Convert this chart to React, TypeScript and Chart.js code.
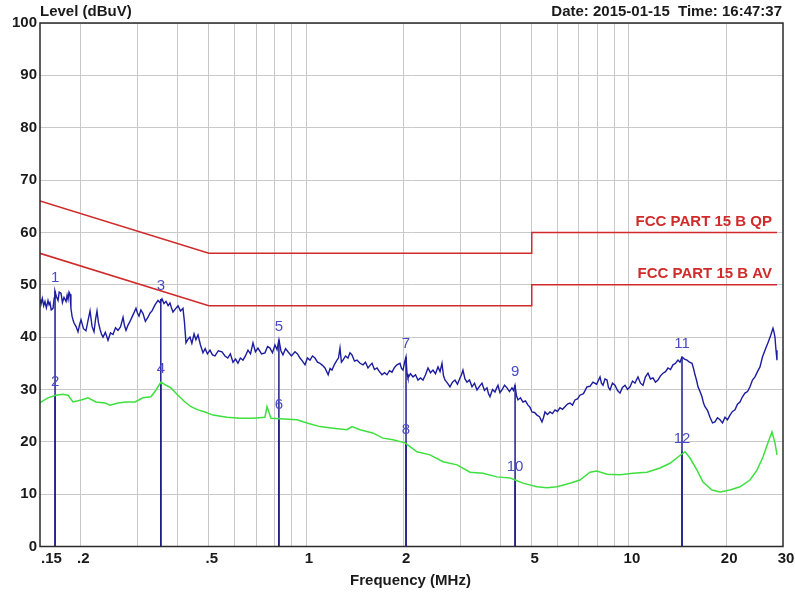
import React, { useEffect, useRef } from 'react';
import { Chart, registerables } from 'chart.js';

Chart.register(...registerables);

// ---------- data ----------
const gridFreqs = [0.2, 0.3, 0.4, 0.5, 0.6, 0.7, 0.8, 0.9, 1, 2, 3, 4, 5, 6, 7, 8, 9, 10, 20];
const xTickValues = [0.15, 0.2, 0.5, 1, 2, 5, 10, 20, 30];
const xTickLabels = ['.15', '.2', '.5', '1', '2', '5', '10', '20', '30'];
const yTickValues = [0, 10, 20, 30, 40, 50, 60, 70, 80, 90, 100];

// QP / peak trace (MHz)
const qpFreq = [
  0.150, 0.1505, 0.1511, 0.1525, 0.1540, 0.1554, 0.1570, 0.1588, 0.1600, 0.1611,
  0.1625, 0.1646, 0.1660, 0.1669, 0.1685, 0.1706, 0.1720, 0.1742, 0.1760, 0.1780,
  0.1806, 0.1820, 0.1832, 0.1845, 0.1858, 0.1870, 0.1885, 0.1900, 0.1912, 0.1940,
  0.1967, 0.1990, 0.2010, 0.2045, 0.2082, 0.2110, 0.2143, 0.2175, 0.2205, 0.2230,
  0.2252, 0.2275, 0.2301, 0.2325, 0.2351, 0.2390, 0.2436, 0.2480, 0.2525, 0.2570,
  0.2616, 0.2665, 0.2712, 0.2740, 0.2770, 0.2810, 0.2850, 0.2910, 0.2974, 0.3005,
  0.3039, 0.3080, 0.3127, 0.3180, 0.3240, 0.3290, 0.3334, 0.3410, 0.3480, 0.3530,
  0.3580, 0.3630, 0.3684, 0.3740, 0.3790, 0.3830, 0.3872, 0.3940, 0.4013, 0.4085,
  0.4158, 0.4200, 0.4248, 0.4310, 0.4371, 0.4430, 0.4500, 0.4560, 0.4628, 0.4710,
  0.4795, 0.4870, 0.4950, 0.5041, 0.5130, 0.5224, 0.5350, 0.5491, 0.5610, 0.5722,
  0.5830, 0.5940, 0.6050, 0.6155, 0.6260, 0.6378, 0.6490, 0.6610, 0.6730, 0.6850,
  0.6970, 0.7098, 0.7280, 0.7461, 0.7600, 0.7732, 0.7870, 0.8013, 0.8130, 0.8243,
  0.8360, 0.8482, 0.8640, 0.8792, 0.9010, 0.9242, 0.9410, 0.9578, 0.9750, 0.9925,
  1.0100, 1.0285, 1.0470, 1.0658, 1.0850, 1.1045, 1.1240, 1.1445, 1.1710, 1.1870,
  1.2032, 1.2250, 1.2469, 1.2600, 1.2739, 1.2870, 1.3014, 1.3250, 1.3486, 1.3680,
  1.3877, 1.4130, 1.4381, 1.4700, 1.5010, 1.5280, 1.5555, 1.5780, 1.6006, 1.6290,
  1.6587, 1.6880, 1.7189, 1.7500, 1.7813, 1.8130, 1.8459, 1.8790, 1.9128, 1.9542,
  1.9750, 1.9965, 2.0200, 2.0397, 2.0550, 2.0690, 2.1060, 2.1440, 2.1830, 2.2218,
  2.2620, 2.3024, 2.3440, 2.3859, 2.4290, 2.4725, 2.5170, 2.5622, 2.6000, 2.6363,
  2.6650, 2.6933, 2.7420, 2.7911, 2.8410, 2.8923, 2.9440, 2.9973, 3.0300, 3.0620,
  3.1060, 3.1511, 3.2080, 3.2655, 3.3250, 3.3840, 3.4450, 3.5067, 3.5700, 3.6339,
  3.6730, 3.7125, 3.7800, 3.8471, 3.8890, 3.9303, 3.9870, 4.0442, 4.1170, 4.1909,
  4.2660, 4.3430, 4.3900, 4.4369, 4.4850, 4.5329, 4.6140, 4.6974, 4.7820, 4.8677,
  4.9380, 5.0085, 5.1000, 5.1902, 5.2830, 5.3784, 5.4360, 5.4947, 5.5940, 5.6942,
  5.7970, 5.9009, 6.0070, 6.1151, 6.2250, 6.3368, 6.4500, 6.5666, 6.6850, 6.8051,
  6.9270, 7.0517, 7.2300, 7.4124, 7.5740, 7.7363, 7.9400, 8.136, 8.220, 8.312,
  8.430, 8.553, 8.640, 8.738, 8.890, 9.054, 9.220, 9.383, 9.550, 9.723,
  9.900, 10.076, 10.260, 10.441, 10.550, 10.667, 10.860, 11.055, 11.250, 11.456,
  11.660, 11.871, 12.080, 12.302, 12.520, 12.749, 12.980, 13.211, 13.450, 13.690,
  13.940, 14.187, 14.390, 14.595, 14.860, 15.128, 15.400, 15.677, 15.850, 16.017,
  16.190, 16.363, 16.600, 16.836, 17.020, 17.200, 17.510, 17.825, 18.150, 18.471,
  18.800, 19.142, 19.490, 19.836, 20.190, 20.556, 20.930, 21.302, 21.680, 22.074,
  22.470, 22.875, 23.290, 23.705, 24.130, 24.566, 25.010, 25.458, 25.910, 26.382,
  26.660, 26.952, 27.440, 27.93, 28.13, 28.33, 28.54, 28.74,
];
const qpLevel = [
  46.5, 47.2, 46.3, 47.4, 46.0, 46.8, 45.6, 47.0, 46.2, 46.6,
  45.2, 45.5, 47.5, 48.8, 47.8, 47.0, 48.6, 48.4, 46.6, 47.6,
  46.8, 48.0, 47.2, 48.6, 48.2, 45.5, 44.0, 43.2, 42.7, 42.0,
  41.0, 42.4, 43.3, 41.6, 41.2, 43.0, 45.0, 42.0, 41.0, 43.5,
  45.0, 42.8, 41.5, 40.6, 40.0, 40.9, 39.4, 40.8, 40.5, 41.8,
  41.3, 42.0, 43.8, 42.2, 41.3, 42.3, 43.0, 44.2, 45.5, 44.6,
  44.0, 45.2, 44.5, 43.0, 43.8, 44.6, 45.0, 46.2, 47.0, 46.6,
  47.3, 46.4, 46.8, 46.0, 46.5, 45.6, 44.8, 45.4, 46.0, 45.0,
  45.5, 43.0, 38.9, 39.6, 40.0, 38.8, 40.6, 39.5, 40.4, 38.5,
  37.0, 37.8, 36.8, 37.5, 36.6, 36.4, 37.4, 37.2, 36.4, 36.0,
  36.8, 35.2, 35.8, 35.0, 36.0, 35.6, 36.4, 37.5, 36.8, 38.9,
  37.2, 37.9, 36.8, 37.0, 38.2, 37.9, 37.0, 38.5, 37.6, 39.5,
  37.4, 36.6, 37.8, 37.2, 36.4, 37.2, 36.8, 36.0, 35.4, 34.7,
  36.0, 35.6, 36.4, 36.0, 35.2, 35.0, 34.6, 34.1, 32.8, 34.0,
  33.7, 34.8, 35.6, 36.0, 37.9, 35.2, 35.6, 36.4, 36.0, 37.0,
  36.6, 35.4, 35.6, 35.0, 34.7, 35.2, 34.1, 34.6, 35.0, 33.8,
  34.1, 33.4, 32.8, 33.2, 32.8, 33.6, 33.3, 34.2, 34.7, 35.0,
  34.0, 33.7, 35.2, 36.2, 33.0, 32.2, 33.0, 32.4, 32.8, 31.8,
  32.2, 31.8, 32.8, 34.1, 33.2, 33.7, 33.0, 34.3, 33.4, 35.0,
  32.6, 31.8, 31.2, 30.5, 31.4, 31.8, 31.0, 32.2, 32.8, 33.7,
  32.0, 31.4, 31.8, 30.5, 31.2, 29.9, 30.6, 31.2, 29.8, 30.3,
  29.2, 28.6, 30.0, 29.5, 30.2, 30.8, 29.4, 29.9, 30.8, 30.3,
  29.6, 30.3, 29.8, 30.8, 28.8, 28.0, 28.4, 27.6, 27.8, 27.0,
  26.6, 25.7, 25.6, 25.1, 24.8, 23.8, 24.6, 25.7, 25.2, 25.7,
  25.4, 26.1, 25.8, 26.5, 26.2, 26.7, 27.2, 27.4, 27.0, 28.0,
  28.2, 28.9, 29.2, 30.5, 30.6, 31.4, 31.0, 32.4, 31.2, 30.8,
  32.0, 31.8, 30.4, 29.9, 31.2, 30.8, 29.8, 29.3, 30.4, 30.8,
  30.0, 30.5, 31.6, 31.2, 31.8, 32.4, 31.2, 30.8, 32.4, 33.1,
  32.0, 32.2, 31.4, 31.8, 32.6, 33.1, 33.4, 34.1, 33.8, 34.7,
  35.0, 35.6, 35.2, 36.2, 35.8, 35.6, 35.2, 35.0, 34.0, 32.8,
  31.8, 30.5, 29.6, 28.6, 27.4, 26.7, 26.0, 24.7, 23.6, 23.8,
  24.6, 24.2, 23.6, 24.7, 24.2, 25.1, 25.8, 26.1, 27.2, 27.6,
  28.6, 29.3, 29.6, 30.5, 31.8, 32.4, 33.4, 34.3, 36.2, 37.5,
  38.2, 38.9, 40.2, 41.7, 41.0, 40.0, 37.5, 35.6,
];

// AV trace (MHz)
const avFreq = [
  0.150, 0.1588, 0.1681, 0.1767, 0.1832, 0.1898, 0.2010, 0.2112, 0.2236, 0.2385,
  0.2471, 0.2616, 0.2770, 0.2953, 0.3127, 0.3310, 0.3430, 0.3555, 0.3684, 0.3817,
  0.4013, 0.4218, 0.4402, 0.4628, 0.4865, 0.5149, 0.5691, 0.6244, 0.6850, 0.7461,
  0.7569, 0.7788, 0.8304, 0.9375, 1.0068, 1.1045, 1.2118, 1.3391, 1.3877, 1.4693,
  1.6080, 1.7312, 1.8592, 2.0252, 2.2060, 2.4201, 2.6562, 2.9339, 3.2192, 3.5317,
  3.9023, 4.2815, 4.4369, 4.6974, 5.1902, 5.5736, 5.9856, 6.5666, 7.0517, 7.5722,
  7.960, 8.553, 9.383, 10.293, 11.375, 12.478, 13.401, 14.187, 14.914, 15.456,
  16.247, 16.955, 18.080, 19.142, 20.556, 22.074, 23.705, 24.92, 26.009, 26.952,
  27.732, 28.33, 28.74,
];
const avLevel = [
  27.5, 28.4, 28.9, 29.1, 28.9, 27.6, 28.0, 28.4, 27.6, 27.4,
  27.0, 27.4, 27.6, 27.6, 28.4, 28.6, 29.9, 31.4, 30.8, 30.3,
  28.9, 27.6, 26.7, 26.1, 25.7, 25.1, 24.7, 24.5, 24.5, 24.7,
  26.7, 24.5, 24.4, 24.2, 23.6, 22.9, 22.6, 22.3, 22.9, 22.3,
  21.7, 20.7, 20.4, 19.8, 18.1, 17.5, 16.2, 15.6, 14.2, 14.0,
  13.3, 13.1, 12.7, 12.1, 11.4, 11.2, 11.4, 12.1, 12.7, 14.2,
  14.4, 13.8, 13.7, 14.0, 14.2, 15.0, 15.9, 17.1, 18.1, 16.9,
  14.6, 12.3, 10.8, 10.4, 10.8, 11.4, 12.7, 14.6, 17.1, 19.8,
  21.9, 19.8, 17.5,
];

const qpLimitFreq = [0.15, 0.5, 5, 5, 28.74];
const qpLimitLevel = [66, 56, 56, 60, 60];
const avLimitFreq = [0.15, 0.5, 5, 5, 28.74];
const avLimitLevel = [56, 46, 46, 50, 50];
const limitNames = ['FCC PART 15 B QP', 'FCC PART 15 B AV'];
const limitLabelLevel = [60, 50];

const markerNo = [1, 2, 3, 4, 5, 6, 7, 8, 9, 10, 11, 12];
const markerFreq = [0.167, 0.167, 0.355, 0.355, 0.824, 0.824, 2.04, 2.04, 4.44, 4.44, 14.6, 14.6];
const markerLevel = [48.8, 28.9, 47.3, 31.4, 39.5, 24.5, 36.2, 19.8, 30.8, 12.7, 36.2, 18.1];

const yTitle = 'Level (dBuV)';
const xTitle = 'Frequency (MHz)';
const headerRight = 'Date: 2015-01-15  Time: 16:47:37';

// ---------- styles ----------
const FONT = '"Liberation Sans", Arial, sans-serif';
const QP_COLOR = '#1c1ca0';
const AV_COLOR = '#3ee03e';
const LIMIT_COLOR = '#d02a2a';
const MARKER_COLOR = '#1e1e8c';
const MARKER_TEXT = '#4a4ac4';

const toPts = (xs: number[], ys: number[]) => xs.map((x, i) => ({ x, y: ys[i] }));

const textPlugin = {
  id: 'emiText',
  afterDatasetsDraw(chart: any) {
    const { ctx, chartArea, scales } = chart;
    const xs = scales.x;
    const ys = scales.y;
    ctx.save();
    // frame
    ctx.strokeStyle = '#2a2a2a';
    ctx.lineWidth = 1.5;
    ctx.strokeRect(chartArea.left, chartArea.top, chartArea.right - chartArea.left, chartArea.bottom - chartArea.top);

    // limit labels
    ctx.fillStyle = LIMIT_COLOR;
    ctx.font = `bold 15px ${FONT}`;
    ctx.textAlign = 'right';
    ctx.textBaseline = 'middle';
    limitNames.forEach((n, i) => {
      ctx.fillText(n, chartArea.right - 11, ys.getPixelForValue(limitLabelLevel[i]) - 11);
    });

    // marker labels
    ctx.fillStyle = MARKER_TEXT;
    ctx.font = `15px ${FONT}`;
    ctx.textAlign = 'center';
    markerNo.forEach((n, i) => {
      ctx.fillText(String(n), xs.getPixelForValue(markerFreq[i]), ys.getPixelForValue(markerLevel[i]) - 13);
    });

    // x tick labels
    ctx.fillStyle = '#1a1a1a';
    ctx.font = `bold 15px ${FONT}`;
    xTickValues.forEach((v, i) => {
      const px = xs.getPixelForValue(v);
      ctx.textAlign = i === 0 ? 'left' : 'center';
      ctx.fillText(xTickLabels[i], i === 0 ? px + 1 : px + 3, chartArea.bottom + 12);
    });

    // titles
    ctx.font = `bold 15px ${FONT}`;
    ctx.textAlign = 'center';
    ctx.fillText(xTitle, (chartArea.left + chartArea.right) / 2 - 1, chartArea.bottom + 34);
    ctx.textAlign = 'left';
    ctx.fillText(yTitle, chartArea.left, 12);
    ctx.textAlign = 'right';
    ctx.fillText(headerRight, chartArea.right - 1, 12);
    ctx.restore();
  },
};

export default function App() {
  const ref = useRef<HTMLCanvasElement | null>(null);
  useEffect(() => {
    document.body.style.margin = '0';
    const canvas = ref.current;
    if (!canvas) return;
    const markerSets = markerNo.map((n, i) => ({
      label: 'M' + n,
      data: [
        { x: markerFreq[i], y: 0 },
        { x: markerFreq[i], y: markerLevel[i] },
      ],
      borderColor: MARKER_COLOR,
      borderWidth: 1.5,
      pointRadius: 0,
    }));
    const chart = new Chart(canvas, {
      type: 'line',
      data: {
        datasets: [
          { label: 'QP limit', data: toPts(qpLimitFreq, qpLimitLevel), borderColor: LIMIT_COLOR, borderWidth: 1.5, pointRadius: 0 },
          { label: 'AV limit', data: toPts(avLimitFreq, avLimitLevel), borderColor: LIMIT_COLOR, borderWidth: 1.5, pointRadius: 0 },
          { label: 'AV', data: toPts(avFreq, avLevel), borderColor: AV_COLOR, borderWidth: 1.5, pointRadius: 0 },
          { label: 'QP', data: toPts(qpFreq, qpLevel), borderColor: QP_COLOR, borderWidth: 1.4, pointRadius: 0 },
          ...markerSets,
        ] as any,
      },
      options: {
        animation: false,
        responsive: false,
        events: [],
        layout: { padding: { top: 23, right: 12, left: 0, bottom: 0 } },
        plugins: { legend: { display: false }, tooltip: { enabled: false } },
        elements: { line: { tension: 0 } },
        scales: {
          x: {
            type: 'logarithmic',
            min: 0.15,
            max: 30,
            afterBuildTicks: (s: any) => {
              s.ticks = gridFreqs.map((v) => ({ value: v }));
            },
            afterFit: (s: any) => {
              s.height = 48.5;
            },
            ticks: { display: false, autoSkip: false },
            grid: { color: '#c9c9c9', lineWidth: 1, drawTicks: false },
            border: { display: false },
          },
          y: {
            type: 'linear',
            min: 0,
            max: 100,
            afterBuildTicks: (s: any) => {
              s.ticks = yTickValues.map((v) => ({ value: v }));
            },
            afterFit: (s: any) => {
              s.width = 40;
            },
            ticks: {
              padding: 3,
              color: '#1a1a1a',
              font: { family: FONT, size: 15, weight: 'bold' },
            },
            grid: { color: '#c9c9c9', lineWidth: 1, drawTicks: false },
            border: { display: false },
          },
        },
      } as any,
      plugins: [textPlugin],
    });
    return () => chart.destroy();
  }, []);
  return (
    <div style={{ width: 795, height: 595, background: '#fff' }}>
      <canvas ref={ref} width={795} height={595} style={{ display: 'block' }} />
    </div>
  );
}
